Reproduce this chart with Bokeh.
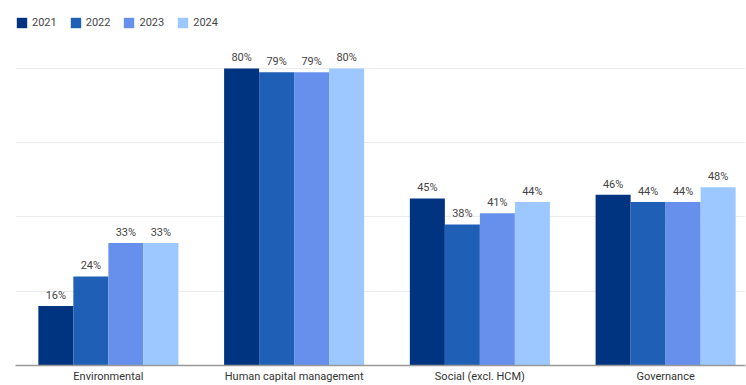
from bokeh.plotting import figure
from bokeh.models import ColumnDataSource, Range1d, FixedTicker, LabelSet, Legend, LegendItem
from bokeh.transform import dodge
from bokeh.core.properties import value
from bokeh.embed import file_html
from bokeh.resources import INLINE

categories = ["Environmental", "Human capital management", "Social (excl. HCM)", "Governance"]
years = ["2021", "2022", "2023", "2024"]
v2021 = [16, 80, 45, 46]
v2022 = [24, 79, 38, 44]
v2023 = [33, 79, 41, 44]
v2024 = [33, 80, 44, 48]
series = [v2021, v2022, v2023, v2024]
colors = ["#003380", "#1f5fb5", "#6690ec", "#9dc8ff"]
grid_ticks = [20, 40, 60, 80]

FONT = "Roboto"
BAR_W = 0.1885

p = figure(width=746, height=385, output_backend="svg", toolbar_location=None,
           x_range=Range1d(-0.5, 3.43), y_range=Range1d(0, 95.6),
           min_border_left=15, min_border_right=1, min_border_top=10, min_border_bottom=18)
p.outline_line_color = None
p.background_fill_color = "white"
p.border_fill_color = "white"

xs = list(range(len(categories)))
items = []
for i, (yr, vals, col) in enumerate(zip(years, series, colors)):
    src = ColumnDataSource(dict(x=xs, y=vals, lbl=[f"{v:.0f}%" for v in vals]))
    off = (i - 1.5) * BAR_W
    r = p.vbar(x=dodge("x", off), top="y", bottom=0, width=BAR_W, source=src,
               fill_color=col, line_color=None)
    items.append(LegendItem(label=yr, renderers=[r]))
    p.add_layout(LabelSet(x=dodge("x", off), y="y", text="lbl", source=src,
                          text_align="center", text_baseline="bottom", y_offset=4,
                          text_font=value(FONT), text_font_size="11px", text_color="#444444"))

legend = Legend(items=items, location=(0, 336), orientation="horizontal",
                glyph_width=13, glyph_height=13, label_standoff=4, spacing=12,
                padding=0, margin=0, border_line_color=None, background_fill_alpha=0,
                label_text_font=FONT, label_text_font_size="11px", label_text_color="#444444",
                label_height=13)
p.add_layout(legend, "center")

p.yaxis.visible = False
p.ygrid.ticker = FixedTicker(ticks=grid_ticks)
p.ygrid.grid_line_color = "#ececec"
p.ygrid.grid_line_width = 1
p.xgrid.grid_line_color = None

p.xaxis.ticker = FixedTicker(ticks=xs)
p.xaxis.major_label_overrides = {i: c for i, c in enumerate(categories)}
p.xaxis.major_tick_line_color = None
p.xaxis.minor_tick_line_color = None
p.xaxis.major_tick_out = 0
p.xaxis.major_tick_in = 0
p.xaxis.axis_line_color = "#999999"
p.xaxis.axis_line_width = 1.5
p.xaxis.major_label_standoff = 4
p.xaxis.major_label_text_font = FONT
p.xaxis.major_label_text_font_size = "11px"
p.xaxis.major_label_text_color = "#333333"

open("out.html", "w").write(file_html(p, INLINE))
